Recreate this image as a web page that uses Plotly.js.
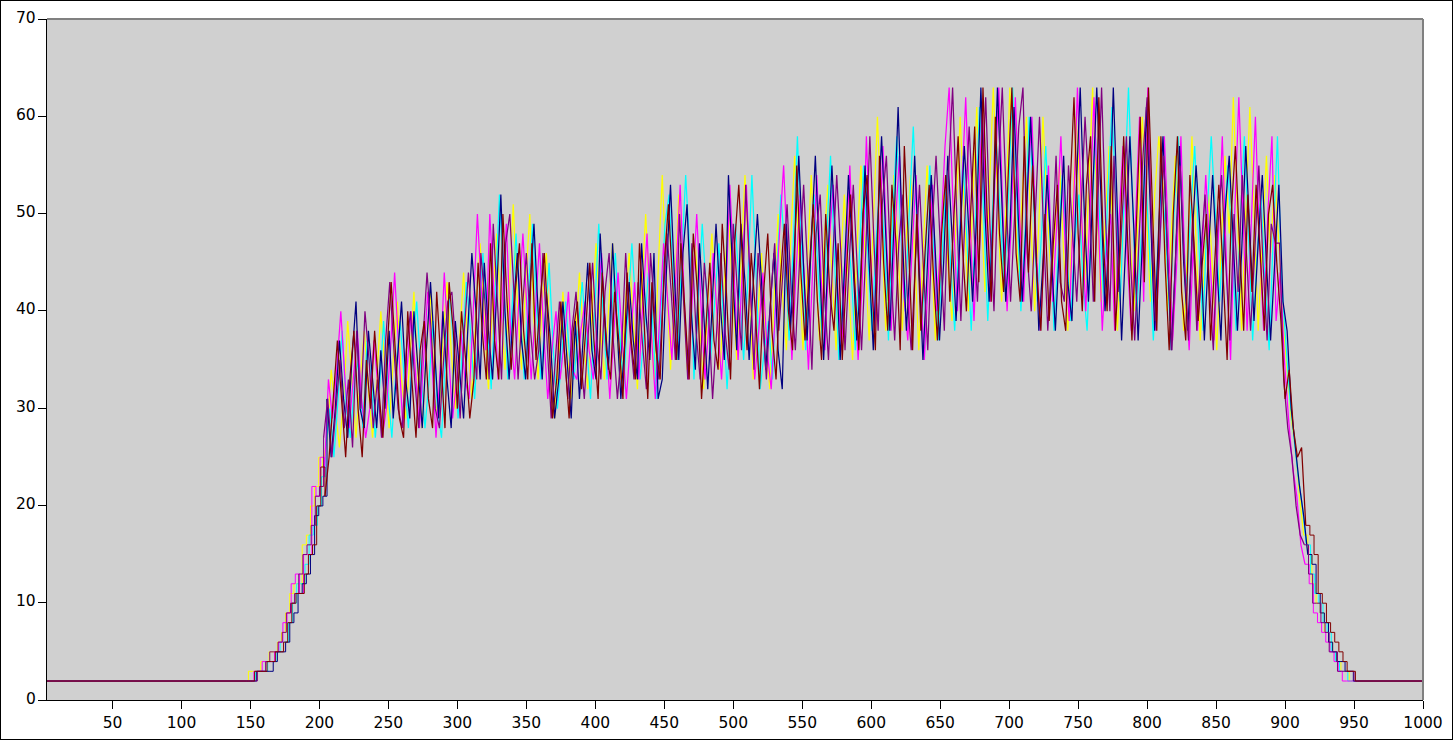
<!DOCTYPE html>
<html>
<head>
<meta charset="utf-8">
<script src="https://cdn.plot.ly/plotly-3.0.1.min.js"></script>
<style>
html,body{margin:0;padding:0;background:#fff;overflow:hidden}
#frame{position:absolute;left:0;top:0;width:1451px;height:738px;border:1px solid #000}
#chart{position:absolute;left:-1px;top:-1px;width:1453px;height:740px}
</style>
</head>
<body>
<div id="frame"><div id="chart"></div></div>
<script>
const sampleX = [1,
147,150,153,156,159,162,165,168,171,174,
177,180,183,186,189,192,195,198,201,204,
207,210,213,216,219,222,225,228,231,234,
237,240,243,246,249,252,255,258,261,264,
267,270,273,276,279,282,285,288,291,294,
297,300,303,306,309,312,315,318,321,324,
327,330,333,336,339,342,345,348,351,354,
357,360,363,366,369,372,375,378,381,384,
387,390,393,396,399,402,405,408,411,414,
417,420,423,426,429,432,435,438,441,444,
447,450,453,456,459,462,465,468,471,474,
477,480,483,486,489,492,495,498,501,504,
507,510,513,516,519,522,525,528,531,534,
537,540,543,546,549,552,555,558,561,564,
567,570,573,576,579,582,585,588,591,594,
597,600,603,606,609,612,615,618,621,624,
627,630,633,636,639,642,645,648,651,654,
657,660,663,666,669,672,675,678,681,684,
687,690,693,696,699,702,705,708,711,714,
717,720,723,726,729,732,735,738,741,744,
747,750,753,756,759,762,765,768,771,774,
777,780,783,786,789,792,795,798,801,804,
807,810,813,816,819,822,825,828,831,834,
837,840,843,846,849,852,855,858,861,864,
867,870,873,876,879,882,885,888,891,894,
897,900,903,906,909,912,915,918,921,924,
927,930,933,936,939,942,945,948,951,
1000];

const yellowSeries = [2,
2,3,3,3,4,4,5,5,6,7,
9,11,12,12,16,17,20,22,25,24,
27,34,30,26,31,39,33,27,33,38,
32,27,33,40,34,28,35,41,33,29,
35,42,33,28,36,42,31,29,37,43,
36,30,37,44,37,31,40,47,39,32,
41,48,40,34,42,51,41,34,43,50,
39,33,41,46,35,29,35,42,36,31,
37,44,37,32,40,47,39,33,40,47,
38,33,40,46,39,32,42,50,41,33,
44,54,44,34,42,52,43,34,41,47,
39,32,41,48,41,34,43,50,42,35,
45,54,44,33,39,46,37,32,41,50,
42,36,47,56,46,36,44,54,45,37,
46,53,44,36,44,52,43,35,46,55,
46,37,49,60,49,38,46,54,46,38,
48,54,46,36,46,55,47,37,45,52,
45,39,50,60,50,40,51,61,51,42,
52,63,52,41,50,63,53,44,52,60,
50,40,49,60,51,43,49,55,46,38,
48,60,52,42,52,63,52,41,49,57,
47,38,48,57,48,40,50,60,50,41,
52,58,53,40,48,56,47,38,47,58,
47,37,45,52,44,36,46,56,48,62,
50,38,50,61,50,38,47,56,46,54,
47,39,34,29,26,21,17,15,12,10,
9,7,6,5,4,3,3,2,2,
2];

const cyanSeries = [2,
2,2,3,3,3,4,4,5,6,6,
8,10,12,12,14,17,18,20,23,26,
30,25,31,38,30,27,33,35,28,37,
33,27,32,39,32,27,34,39,33,28,
36,41,34,28,33,39,30,27,36,42,
36,29,36,43,38,31,39,46,39,32,
42,52,43,33,40,48,40,33,42,49,
40,33,39,45,36,30,35,41,35,33,
38,43,37,31,40,49,40,33,39,46,
38,32,40,47,40,33,38,44,39,31,
40,49,52,43,35,45,54,46,33,41,
49,42,35,41,47,40,32,40,49,42,
35,43,54,44,32,36,39,33,44,52,
46,37,47,58,46,36,44,52,44,37,
47,56,45,35,42,49,44,36,46,55,
46,38,47,54,47,37,50,58,48,40,
50,59,48,38,46,55,46,37,46,54,
45,38,47,56,47,38,49,61,50,39,
49,58,50,42,52,63,52,40,48,60,
52,41,48,57,48,38,46,54,47,39,
47,52,43,38,48,58,50,41,52,61,
51,41,52,63,51,40,47,55,47,37,
45,54,48,39,50,58,50,42,50,57,
47,38,50,58,50,41,48,55,47,38,
49,58,48,37,45,52,43,36,48,58,
43,37,31,27,23,20,16,13,11,10,
8,7,5,4,3,3,2,2,2,
2];

const magentaSeries = [2,
2,2,3,3,4,4,4,5,6,8,
9,12,13,11,15,15,22,21,25,23,
33,29,34,40,33,28,33,38,31,27,
30,37,32,27,30,36,44,36,28,34,
40,34,28,35,42,35,27,34,44,36,
29,33,38,33,31,40,50,42,36,50,
42,33,41,49,38,33,41,48,40,33,
40,47,38,31,36,40,33,37,42,34,
33,38,41,36,33,39,46,38,31,38,
44,37,31,37,43,33,41,48,38,31,
39,47,41,35,44,53,41,33,42,50,
41,33,39,46,39,33,41,53,44,35,
44,53,42,33,38,44,36,32,40,48,
55,45,35,44,52,43,34,44,54,44,
36,47,53,43,36,45,55,44,35,43,
58,46,38,46,57,46,38,49,56,42,
37,46,54,43,35,44,53,40,48,57,
63,50,40,52,62,50,39,50,61,50,
41,53,63,50,40,49,62,50,41,53,
60,47,38,46,55,41,49,58,47,39,
50,63,50,40,50,62,50,38,46,50,
38,49,57,46,38,49,60,41,63,46,
38,48,58,47,37,45,58,44,36,47,
38,45,54,46,37,47,58,45,35,50,
62,50,38,49,60,47,38,50,58,39,
44,35,29,24,21,16,14,12,9,8,
7,6,5,4,3,2,2,2,2,
2];

const navySeries = [2,
2,2,3,3,3,3,4,5,5,6,
8,9,11,12,13,15,19,20,21,31,
25,30,37,31,27,35,41,30,28,38,
33,28,36,30,38,29,35,41,33,29,
40,34,28,36,43,36,29,40,33,28,
39,34,29,38,46,40,33,45,38,33,
42,52,40,33,40,46,37,33,42,49,
40,33,42,37,29,33,41,35,29,39,
31,38,45,36,33,48,40,34,47,39,
31,37,43,37,33,47,40,35,46,31,
33,44,53,43,35,46,51,40,34,47,
40,32,40,49,41,35,54,44,36,49,
43,35,43,50,43,34,40,46,36,32,
49,38,47,56,46,37,47,56,45,35,
45,55,46,35,44,54,46,37,44,55,
45,36,48,58,48,38,49,61,48,38,
46,56,45,35,44,54,46,37,45,56,
48,39,48,57,49,41,50,63,50,41,
50,63,52,41,48,61,50,41,50,60,
50,38,45,54,46,38,47,56,43,39,
52,63,50,41,52,63,52,40,48,63,
50,37,47,58,48,37,47,61,50,38,
49,58,47,36,45,57,45,38,47,55,
48,37,46,54,45,37,50,56,47,38,
46,57,48,39,47,54,45,37,45,53,
41,38,30,26,22,19,15,14,11,9,
8,6,5,4,4,3,3,2,2,
2];

const purpleSeries = [2,
2,2,2,3,3,4,5,5,6,7,
9,10,11,13,15,16,18,21,22,27,
31,25,30,35,28,33,26,38,30,40,
35,28,33,27,37,43,36,30,28,36,
40,33,28,37,44,38,30,28,35,41,
42,36,29,38,44,38,33,46,41,33,
49,41,33,47,50,42,33,40,46,38,
33,36,46,37,29,35,41,37,31,38,
42,36,31,38,45,37,33,42,46,37,
31,36,46,38,33,43,37,32,46,40,
33,41,48,42,35,50,41,33,47,38,
33,45,40,31,38,46,38,34,49,42,
36,53,44,34,46,40,33,41,47,38,
44,51,42,36,45,53,44,34,48,52,
42,35,45,54,46,36,45,53,44,36,
46,58,47,38,51,56,45,37,47,52,
42,36,45,53,44,36,48,56,47,38,
54,63,50,39,50,59,50,41,52,62,
49,40,54,63,51,41,50,59,63,46,
40,50,60,48,38,46,56,43,41,55,
48,41,50,60,52,41,50,63,49,40,
56,42,50,58,45,37,47,56,62,50,
39,46,56,45,36,47,55,45,37,50,
38,46,52,43,36,48,54,45,37,50,
42,54,46,38,46,55,45,37,49,47,
47,33,28,25,20,17,16,13,10,10,
8,7,5,5,3,3,3,3,2,
2];

const maroonSeries = [2,
2,2,3,3,3,4,4,5,5,6,
8,10,11,11,13,15,16,20,24,21,
25,31,37,31,25,33,38,30,25,35,
30,38,32,27,36,43,36,29,27,40,
33,27,36,39,31,28,42,35,28,43,
38,30,40,35,29,33,45,38,33,47,
37,33,50,41,34,42,47,38,33,47,
35,41,46,38,29,33,41,35,29,38,
41,32,38,45,37,31,44,36,33,42,
37,31,44,37,33,47,40,31,43,36,
33,45,51,43,35,47,40,33,48,42,
31,38,45,37,34,49,42,33,47,53,
44,36,46,40,32,42,48,38,33,43,
49,40,36,55,44,37,44,51,41,35,
50,42,38,47,35,44,52,43,36,50,
54,44,36,56,45,38,53,47,36,57,
47,36,50,38,46,53,44,37,48,54,
41,50,58,47,40,50,59,43,63,50,
41,60,48,42,53,63,46,41,58,44,
55,44,38,50,39,47,53,41,38,52,
62,48,40,53,58,41,62,48,40,57,
38,46,58,47,37,48,60,43,63,50,
38,58,45,36,50,58,42,37,54,47,
39,45,50,37,45,53,44,35,50,57,
47,38,52,42,53,46,38,50,53,45,
39,31,34,28,25,26,18,17,15,11,
10,8,7,6,5,4,3,3,2,
2];

const xTicks = [50,100,150,200,250,300,350,400,450,500,550,600,650,700,750,800,850,900,950,1000];
const yTicks = [0,10,20,30,40,50,60,70];
const seriesColors = ['#ffff00','#00ffff','#ff00ff','#000080','#800080','#800000'];
const sampleShift = [-1.5,0.5,-0.5,1.5,-1,0];
const allSeries = [yellowSeries,cyanSeries,magentaSeries,navySeries,purpleSeries,maroonSeries];

const rampEnd = sampleX.indexOf(204);
const tailStart = sampleX.indexOf(915);
const pieces = [
  {from:0,to:rampEnd+1,shape:'hv',width:1},
  {from:rampEnd,to:tailStart+1,shape:'linear',width:1.25},
  {from:tailStart,to:sampleX.length,shape:'hv',width:1}
];
const lastX = sampleX.length-1;
const traces = [];
allSeries.forEach((vals,i)=>{
  const xs = sampleX.map((x,k)=>(k===0||k===lastX)?x:x+sampleShift[i]);
  pieces.forEach(p=>{
    traces.push({
      x: xs.slice(p.from,p.to),
      y: vals.slice(p.from,p.to).map(v=>v-0.05),
      type:'scatter', mode:'lines',
      line:{color:seriesColors[i],width:p.width,shape:p.shape,simplify:false},
      hoverinfo:'skip', showlegend:false
    });
  });
});

const axisFont = {family:'"DejaVu Sans",sans-serif',size:15.5,color:'#000'};
const layout = {
  width:1453,height:740,
  margin:{l:47,r:30,t:19,b:40,pad:0},
  paper_bgcolor:'rgba(0,0,0,0)',
  plot_bgcolor:'#d0d0d0',
  showlegend:false,
  xaxis:{range:[2.5,1000],tickmode:'array',tickvals:xTicks,ticktext:xTicks.map(String),
    ticks:'outside',ticklen:8,tickwidth:1,tickcolor:'#000',showgrid:false,zeroline:false,
    showline:true,linecolor:'#000',linewidth:1,tickfont:axisFont},
  yaxis:{range:[0,70],tickmode:'array',tickvals:yTicks,ticktext:yTicks.map(String),
    ticks:'outside',ticklen:8,tickwidth:1,tickcolor:'#000',showgrid:false,zeroline:false,
    showline:true,linecolor:'#000',linewidth:1,showticklabels:false},
  annotations: yTicks.map(v=>({
    xref:'paper',yref:'y',x:0,y:v,text:String(v),showarrow:false,
    xanchor:'right',yanchor:'middle',xshift:-11,yshift:1.5,
    font:axisFont,borderpad:0,borderwidth:0
  })),
  shapes:[
    {type:'line',xref:'paper',yref:'paper',x0:0,x1:1,y0:1,y1:1,line:{color:'#808080',width:2},layer:'above'},
    {type:'line',xref:'paper',yref:'paper',x0:1,x1:1,y0:0,y1:1,line:{color:'#808080',width:2},layer:'above'}
  ]
};
Plotly.newPlot('chart',traces,layout,{displayModeBar:false,staticPlot:true});
</script>
</body>
</html>
